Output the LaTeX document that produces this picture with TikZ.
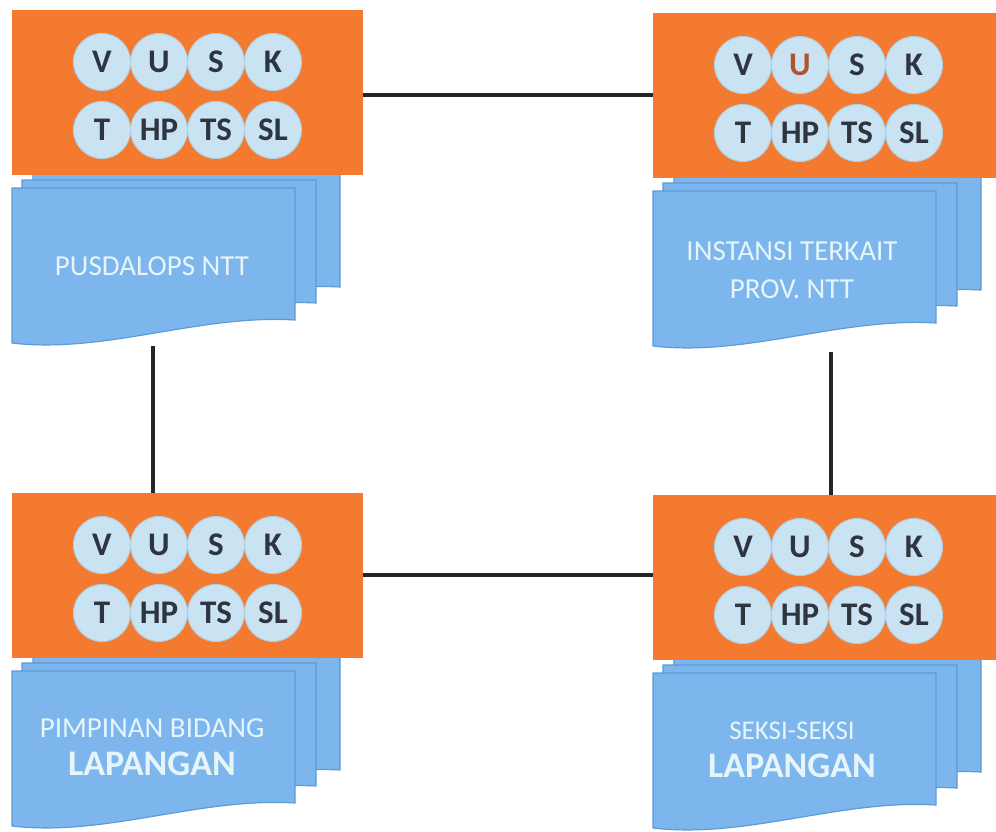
\documentclass[tikz,border=0pt]{standalone}
\usepackage{fontspec}
\setmainfont{Carlito}
\definecolor{orng}{HTML}{F47A30}
\definecolor{cblue}{HTML}{C9E3F3}
\definecolor{cedge}{HTML}{AFCFE2}
\definecolor{dblue}{HTML}{7DB6EC}
\definecolor{dedge}{HTML}{5C9AD8}
\definecolor{ctext}{HTML}{2F3441}
\definecolor{wtext}{HTML}{E6F5FA}
\definecolor{brn}{HTML}{B0552B}
\tikzset{
  orangebox/.style={fill=orng, draw=none, anchor=north west, inner sep=0pt},
  bubble/.style={circle, fill=cblue, draw=cedge, line width=1pt, minimum size=57pt, inner sep=0pt,
     text=ctext, font=\fontsize{33}{36}\selectfont\bfseries},
  docpage/.style={fill=dblue, draw=dedge, line width=1.2pt},
  doclabel/.style={text=wtext, align=center, font=\fontsize{29}{38}\selectfont},
  link/.style={draw=black!85, line width=3.4pt}
}
% #1 = x offset, #2 = y offset, #3 = name prefix
\newcommand\unitblk[3]{%
  \begin{scope}[shift={(#1,#2)}]
    \draw[docpage] (33,170) -- (340,170) -- (340,287) .. controls (245,282) and (125,318) .. (33,309) -- cycle;
    \draw[docpage] (22,180) -- (316,180) -- (316,303) .. controls (222,298) and (110,336) .. (22,326) -- cycle;
    \draw[docpage] (12,188) -- (295,188) -- (295,320) .. controls (200,314) and (105,354) .. (12,343) -- cycle;
    \node[orangebox, minimum width=351pt, minimum height=165pt] (#3rect) at (12,10) {};
    \node[bubble] (#3V)  at (102,62) {V};
    \node[bubble] (#3U)  at (159,62) {\unitU};
    \node[bubble] (#3S)  at (216,62) {S};
    \node[bubble] (#3K)  at (273,62) {K};
    \node[bubble] (#3T)  at (102,130) {T};
    \node[bubble] (#3HP) at (159,130) {HP};
    \node[bubble] (#3TS) at (216,130) {TS};
    \node[bubble] (#3SL) at (273,130) {SL};
  \end{scope}}
\newcommand\unitU{U}
\begin{document}
\begin{tikzpicture}[x=1pt,y=-1pt]
\useasboundingbox (0,0) rectangle (996,831);
\clip (0,0) rectangle (996,831);
\fill[white] (0,0) rectangle (996,831);

\unitblk{0}{0}{tl}
\renewcommand\unitU{\textcolor{brn}{U}}
\unitblk{641}{3}{tr}
\renewcommand\unitU{U}
\unitblk{0}{483}{bl}
\unitblk{641}{485}{br}

\node[doclabel] (tltext) at (152,266) {PUSDALOPS NTT};
\node[doclabel] (trtext) at (792,270) {INSTANSI TERKAIT\\PROV. NTT};
\node[doclabel] (bltext) at (152,747) {PIMPINAN BIDANG\\{\fontsize{36}{38}\selectfont\bfseries LAPANGAN}};
\node[doclabel] (brtext) at (792,750) {{\fontsize{27}{38}\selectfont SEKSI-SEKSI}\\{\fontsize{36}{38}\selectfont\bfseries LAPANGAN}};

\coordinate (tldocbot) at (153,346);
\coordinate (trdocbot) at (831,352);

\draw[link] (tlrect.east |- 0,95) -- (trrect.west |- 0,95);
\draw[link] (blrect.east |- 0,575) -- (brrect.west |- 0,575);
\draw[link] (tldocbot) -- (tldocbot |- blrect.north);
\draw[link] (trdocbot) -- (trdocbot |- brrect.north);
\end{tikzpicture}
\end{document}
